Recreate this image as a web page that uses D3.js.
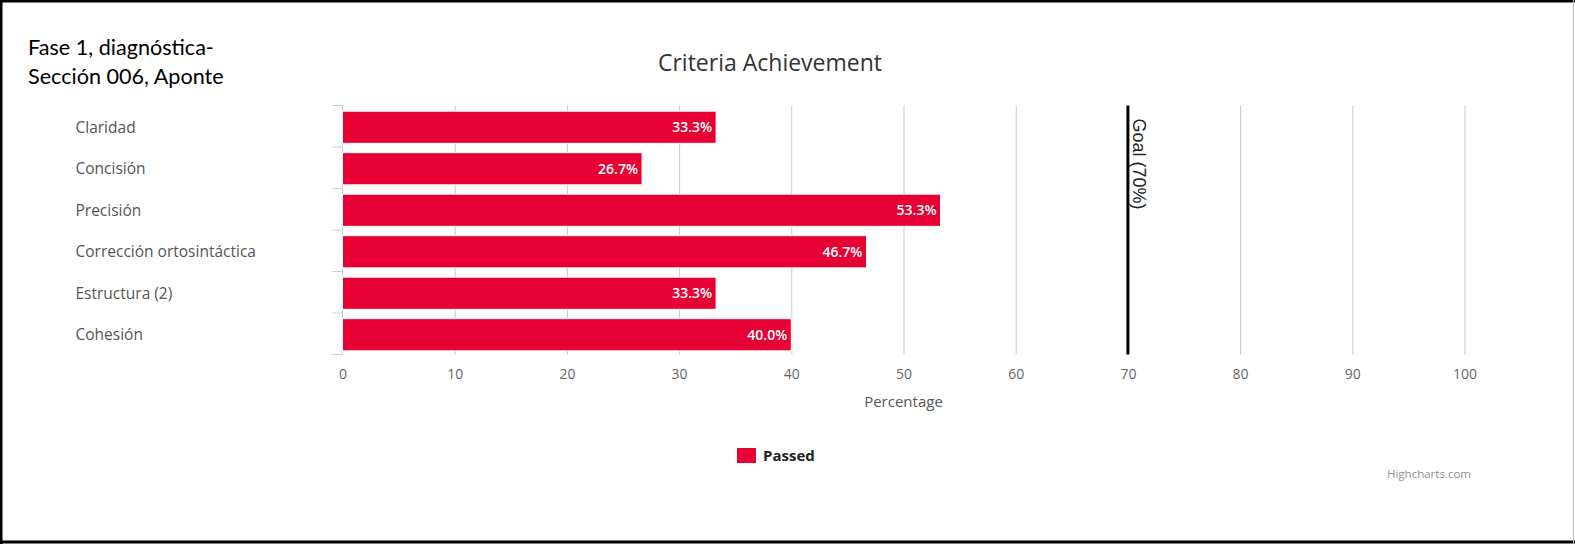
<!DOCTYPE html>
<html><head><meta charset="utf-8">
<script src="https://cdn.jsdelivr.net/npm/d3@7"></script>
<style>
html,body{margin:0;padding:0;background:#fff;}
svg{display:block;}
</style></head>
<body><svg id="c" width="1575" height="544"></svg>
<script>
const categories = ["Claridad","Concisión","Precisión","Corrección ortosintáctica","Estructura (2)","Cohesión"];
const passed = [33.3, 26.7, 53.3, 46.7, 33.3, 40.0];
const xTicks = [0,10,20,30,40,50,60,70,80,90,100];
const goalValue = 70;
const headerLines = ["Fase 1, diagnóstica-","Sección 006, Aponte"];
const chartTitle = "Criteria Achievement";
const xTitle = "Percentage";
const seriesName = "Passed";
const goalLabel = "Goal (70%)";
const credit = "Highcharts.com";

const W=1575,H=544;
const plot={left:342.5,right:1464.5,top:105.5,bottom:354.5};
const FONT='"Lucida Grande","Lucida Sans Unicode","Open Sans",sans-serif';
const RED="#e60033";

const svg=d3.select("#c");
svg.append("rect").attr("width",W).attr("height",H).attr("fill","#fff");

const x=d3.scaleLinear().domain([0,100]).range([plot.left,plot.right]);
const y=d3.scaleBand().domain(categories).range([plot.top,plot.bottom]).paddingInner(0.225).paddingOuter(0.1125);
const ySlot=d3.scaleBand().domain(categories).range([plot.top,plot.bottom]).padding(0);

// grid lines
const xAxis=d3.axisBottom(x).tickValues(xTicks).tickSize(-(plot.bottom-plot.top)).tickPadding(15).tickFormat(d3.format("d"));
const gx=svg.append("g").attr("transform",`translate(0,${plot.bottom})`).call(xAxis);
gx.select(".domain").remove();
gx.selectAll(".tick line").attr("stroke","#c8c8c8").attr("stroke-width",1)
  .filter(d=>d===0).remove();
gx.selectAll(".tick text").attr("fill","#666").style("font-family",FONT).style("font-size","14px").attr("dy","0.71em");

// left axis
const gy=svg.append("g").attr("transform",`translate(${plot.left},0)`);
gy.append("path").attr("stroke","#c0d0e0").attr("fill","none").attr("d",`M0,${plot.top}V${plot.bottom}`);
const bounds=categories.map(c=>ySlot(c)).concat([plot.bottom]);
svg.append("g").selectAll("line").data(bounds).join("line")
  .attr("x1",plot.left-10).attr("x2",plot.left).attr("y1",d=>d).attr("y2",d=>d)
  .attr("stroke","#c0d0e0").attr("stroke-width",1);

// category labels
svg.append("g").selectAll("text").data(categories).join("text")
  .attr("x",75.5).attr("y",d=>ySlot(d)+ySlot.bandwidth()/2+1).attr("dy","0.35em")
  .attr("fill","#555").style("font-family",FONT).style("font-size","15.5px").text(d=>d);

// bars
const data=categories.map((c,i)=>({c,v:passed[i]}));
svg.append("g").selectAll("rect").data(data).join("rect")
  .attr("x",x(0)).attr("y",d=>y(d.c)+1).attr("width",d=>x(d.v)-x(0)).attr("height",y.bandwidth())
  .attr("fill",RED).attr("stroke","#fff").attr("stroke-width",1);

// data labels
svg.append("g").selectAll("text").data(data).join("text")
  .attr("x",d=>x(d.v)-4).attr("y",d=>y(d.c)+1+y.bandwidth()/2).attr("dy","0.35em")
  .attr("text-anchor","end").attr("fill","#fff").style("font-family",FONT).style("font-size","14px").style("font-weight","600")
  .text(d=>d.v.toFixed(1)+"%");

// goal line
svg.append("line").attr("x1",x(goalValue)).attr("x2",x(goalValue)).attr("y1",plot.top).attr("y2",plot.bottom)
  .attr("stroke","#000").attr("stroke-width",3);
svg.append("text").attr("transform",`translate(${x(goalValue)+5},${plot.top+13}) rotate(90)`)
  .attr("fill","#222").style("font-family",'"Liberation Sans",Arial,sans-serif').style("font-size","18px").text(goalLabel);

// titles
svg.append("text").attr("x",770).attr("y",71).attr("text-anchor","middle").attr("fill","#333")
  .style("font-family",FONT).style("font-size","23px").text(chartTitle);
svg.append("text").attr("x",(plot.left+plot.right)/2).attr("y",407).attr("text-anchor","middle").attr("fill","#555")
  .style("font-family",FONT).style("font-size","15px").text(xTitle);

// header
svg.append("g").selectAll("text").data(headerLines).join("text")
  .attr("x",28).attr("y",(d,i)=>55+i*29).attr("fill","#000")
  .style("font-family",'Lato,"Open Sans",sans-serif').style("font-size","21.6px").text(d=>d);

// legend
const lg=svg.append("g");
lg.append("rect").attr("x",737).attr("y",448).attr("width",19).attr("height",15).attr("fill",RED);
lg.append("text").attr("x",763).attr("y",456).attr("dy","0.35em").attr("fill","#222")
  .style("font-family",FONT).style("font-size","15px").style("font-weight","bold").text(seriesName);

// credit
svg.append("text").attr("x",1471).attr("y",478).attr("text-anchor","end").attr("fill","#909090")
  .style("font-family",FONT).style("font-size","11.5px").text(credit);

// frame
svg.append("line").attr("x1",0).attr("x2",W).attr("y1",1).attr("y2",1).attr("stroke","#000").attr("stroke-width",3);
svg.append("line").attr("x1",1).attr("x2",1).attr("y1",0).attr("y2",H).attr("stroke","#000").attr("stroke-width",3);
svg.append("line").attr("x1",0).attr("x2",W).attr("y1",H-2).attr("y2",H-2).attr("stroke","#000").attr("stroke-width",3);
svg.append("line").attr("x1",W-1.5).attr("x2",W-1.5).attr("y1",0).attr("y2",H).attr("stroke","#bbb").attr("stroke-width",1);
</script></body></html>
